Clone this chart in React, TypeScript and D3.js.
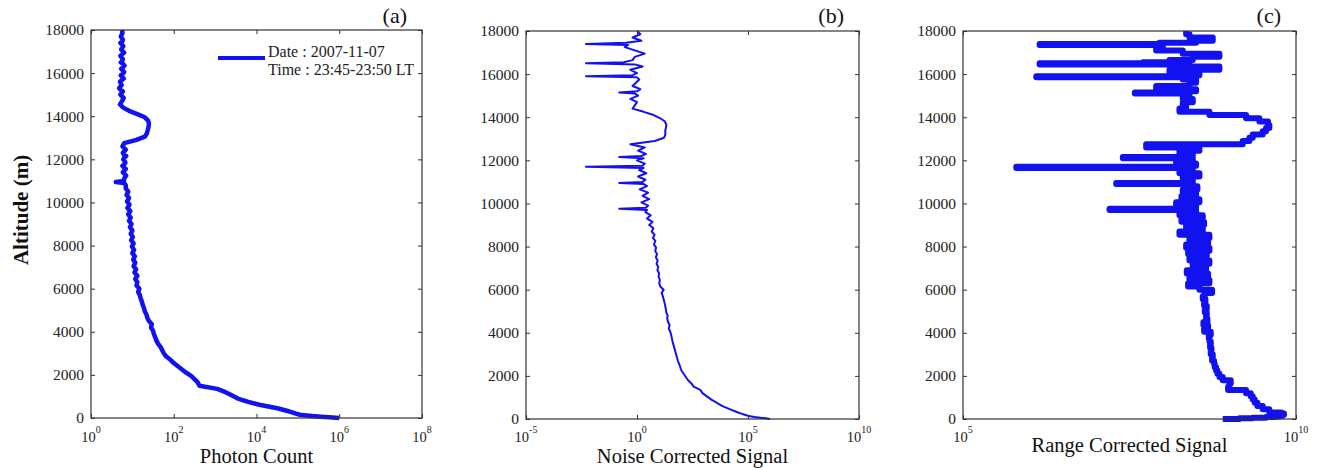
import { useEffect, useRef } from "react";
import * as d3 from "d3";

// altitude bins (m), shared by the three profiles
const altitude = [
  0, 30, 60, 90, 120, 150, 200, 250, 300, 450,
  600, 750, 900, 1050, 1200, 1350, 1500, 1650, 1800, 1950,
  2100, 2250, 2400, 2550, 2700, 2850, 3000, 3150, 3300, 3450,
  3600, 3750, 3900, 4050, 4200, 4350, 4500, 4650, 4800, 4950,
  5100, 5250, 5400, 5550, 5700, 5850, 6000, 6150, 6300, 6450,
  6600, 6750, 6900, 7050, 7200, 7350, 7500, 7650, 7800, 7950,
  8100, 8250, 8400, 8550, 8700, 8850, 9000, 9150, 9300, 9450,
  9600, 9700, 9750, 9800, 9900, 10050, 10200, 10350, 10500, 10650,
  10800, 10900, 10950, 11000, 11100, 11250, 11400, 11550, 11650, 11700,
  11750, 11850, 12000, 12100, 12150, 12200, 12300, 12450, 12600, 12750,
  12900, 13050, 13200, 13350, 13500, 13650, 13800, 13950, 14100, 14250,
  14400, 14550, 14700, 14850, 15000, 15100, 15150, 15200, 15300, 15450,
  15600, 15750, 15850, 15900, 15950, 16050, 16200, 16350, 16450, 16500,
  16550, 16650, 16800, 16950, 17100, 17250, 17350, 17400, 17450, 17550,
  17700, 17850, 18000,
];

// profiles, stored as log10 of the signal
const photonCountExp = [
  6.0, 5.75, 5.55, 5.35, 5.2, 5.05, 4.95, 4.88, 4.8, 4.5,
  4.1, 3.8, 3.55, 3.4, 3.25, 3.05, 2.62, 2.58, 2.5, 2.42,
  2.3, 2.2, 2.1, 2.0, 1.92, 1.82, 1.76, 1.72, 1.68, 1.62,
  1.58, 1.55, 1.52, 1.5, 1.45, 1.47, 1.4, 1.36, 1.34, 1.3,
  1.28, 1.25, 1.23, 1.2, 1.18, 1.14, 1.17, 1.1, 1.12, 1.07,
  1.12, 1.05, 1.09, 1.03, 1.07, 1.02, 1.06, 1.0, 1.04, 0.99,
  1.03, 0.97, 1.01, 0.96, 1.0, 0.94, 0.98, 0.92, 0.96, 0.9,
  0.95, 0.9, 0.88, 0.9, 0.93, 0.87, 0.92, 0.86, 0.9, 0.84,
  0.84, 0.8, 0.6, 0.8, 0.8, 0.85, 0.77, 0.84, 0.78, 0.76,
  0.8, 0.83, 0.78, 0.82, 0.85, 0.8, 0.77, 0.84, 0.76, 0.8,
  1.1, 1.3, 1.35, 1.37, 1.39, 1.4, 1.38, 1.3, 1.12, 0.92,
  0.78, 0.7, 0.75, 0.79, 0.71, 0.75, 0.77, 0.73, 0.68, 0.74,
  0.7, 0.79, 0.74, 0.72, 0.76, 0.8, 0.73, 0.81, 0.76, 0.72,
  0.75, 0.77, 0.71, 0.8, 0.73, 0.78, 0.74, 0.71, 0.75, 0.77,
  0.72, 0.76, 0.75,
];

const noiseCorrectedExp = [
  6.0, 5.8, 5.55, 5.3, 5.15, 5.0, 4.85, 4.7, 4.55, 4.2,
  3.85, 3.6, 3.35, 3.15, 2.95, 2.85, 2.55, 2.45, 2.3, 2.2,
  2.1, 2.0, 1.95, 1.9, 1.84, 1.8, 1.76, 1.72, 1.68, 1.64,
  1.6, 1.57, 1.54, 1.5, 1.43, 1.47, 1.4, 1.36, 1.38, 1.32,
  1.3, 1.27, 1.24, 1.2, 1.16, 1.11, 1.2, 1.05, 1.0, 1.03,
  0.97, 1.0, 0.92, 0.96, 0.88, 0.93, 0.85, 0.9, 0.82, 0.86,
  0.76, 0.83, 0.72, 0.79, 0.66, 0.74, 0.55, 0.7, 0.45, 0.62,
  0.38, 0.45, -0.8, 0.4, 0.5, 0.2, 0.55, 0.25, 0.5, 0.12,
  0.45, 0.3, -0.8, 0.25, 0.38, 0.05, 0.42, 0.1, 0.3, -2.3,
  0.25, 0.35, 0.0, 0.3, -0.8, 0.2, 0.4, 0.05, 0.35, -0.3,
  0.8, 1.22, 1.28, 1.27, 1.3, 1.32, 1.26, 1.05, 0.75, 0.3,
  -0.2, -0.1, 0.0, -0.3, 0.05, -0.1, -0.8, 0.0, 0.15, -0.2,
  -0.05, 0.1, 0.0, -2.3, -0.2, 0.0, -0.3, 0.25, -0.1, -2.3,
  -0.6, -0.2, -0.1, 0.35, -0.1, -0.55, -0.4, -2.3, -0.5, 0.2,
  -0.2, 0.15, 0.0,
];

const rangeCorrectedExp = [
  8.9, 9.15, 9.35, 9.55, 9.68, 9.75, 9.8, 9.82, 9.78, 9.6,
  9.5, 9.42, 9.38, 9.35, 9.32, 9.25, 8.98, 9.0, 9.02, 8.9,
  8.85, 8.82, 8.8, 8.78, 8.77, 8.74, 8.75, 8.72, 8.73, 8.71,
  8.72, 8.7, 8.69, 8.72, 8.62, 8.68, 8.61, 8.67, 8.65, 8.66,
  8.63, 8.66, 8.62, 8.64, 8.6, 8.63, 8.74, 8.55, 8.38, 8.7,
  8.4, 8.68, 8.36, 8.65, 8.45, 8.7, 8.4, 8.66, 8.38, 8.7,
  8.35, 8.68, 8.4, 8.7, 8.25, 8.6, 8.35, 8.62, 8.28, 8.6,
  8.25, 8.5, 7.2, 8.45, 8.5, 8.2, 8.55, 8.28, 8.5, 8.3,
  8.52, 8.4, 7.3, 8.35, 8.45, 8.3, 8.55, 8.25, 8.45, 5.8,
  8.4, 8.5, 8.2, 8.45, 7.4, 8.35, 8.45, 8.25, 8.55, 7.75,
  9.2, 9.3, 9.35, 9.5, 9.55, 9.6, 9.58, 9.45, 9.25, 8.7,
  8.25, 8.35, 8.3, 8.45, 8.3, 8.4, 7.58, 8.35, 8.5, 7.9,
  8.4, 8.5, 8.3, 6.1, 8.2, 8.55, 8.1, 8.85, 8.4, 6.15,
  7.7, 8.1, 8.45, 8.85, 8.3, 7.9, 8.0, 6.15, 7.95, 8.5,
  8.75, 8.4, 8.35,
];

const altitudeTicks = [0, 2000, 4000, 6000, 8000, 10000, 12000, 14000, 16000, 18000];
const photonTickExp = [0, 2, 4, 6, 8];
const noiseTickExp = [-5, 0, 5, 10];
const rangeTickExp = [5, 10];

const legendLines = ["Date : 2007-11-07", "Time : 23:45-23:50 LT"];

const FONT = "'Liberation Serif', 'Times New Roman', serif";
const BLUE = "#1212f0";

const panels = [
  {
    tag: "(a)", title: "Photon Count", values: photonCountExp, ticks: photonTickExp,
    left: 91, right: 422, top: 30, bottom: 418, width: 4.5, titleY: 463, legend: true, step: false,
  },
  {
    tag: "(b)", title: "Noise Corrected Signal", values: noiseCorrectedExp, ticks: noiseTickExp,
    left: 526, right: 859, top: 31, bottom: 419, width: 2, titleY: 463, legend: false, step: false,
  },
  {
    tag: "(c)", title: "Range Corrected Signal", values: rangeCorrectedExp, ticks: rangeTickExp,
    left: 963, right: 1296, top: 31, bottom: 419, width: 6, titleY: 452, legend: false, step: true,
  },
];

export default function App() {
  const ref = useRef<SVGSVGElement>(null);

  useEffect(() => {
    const svg = d3.select(ref.current);
    svg.selectAll("*").remove();

    panels.forEach((p) => {
      const lo = p.ticks[0];
      const hi = p.ticks[p.ticks.length - 1];
      const x = d3.scaleLog().domain([10 ** lo, 10 ** hi]).range([p.left, p.right]);
      const y = d3.scaleLinear().domain([0, 18000]).range([p.bottom, p.top]);
      const g = svg.append("g");

      // profile
      const pts: [number, number][] = altitude.map((a, i) => [10 ** p.values[i], a]);
      const line = d3
        .line<[number, number]>()
        .x((d) => x(d[0]))
        .y((d) => y(d[1]))
        .curve(p.step ? d3.curveStepAfter : d3.curveLinear);
      g.append("path")
        .attr("d", line(pts))
        .attr("fill", "none")
        .attr("stroke", BLUE)
        .attr("stroke-width", p.width)
        .attr("stroke-linejoin", "round");

      // box + inward ticks
      const tickVals = p.ticks.map((e) => 10 ** e);
      const styleAxis = (sel: any) => {
        sel.select(".domain").remove();
        sel.selectAll("line").attr("stroke", "#333");
      };
      g.append("g")
        .attr("transform", `translate(0,${p.bottom})`)
        .call(d3.axisBottom(x).tickValues(tickVals).tickSize(-4).tickFormat(() => ""))
        .call(styleAxis);
      g.append("g")
        .attr("transform", `translate(0,${p.top})`)
        .call(d3.axisTop(x).tickValues(tickVals).tickSize(-4).tickFormat(() => ""))
        .call(styleAxis);
      g.append("g")
        .attr("transform", `translate(${p.right},0)`)
        .call(d3.axisRight(y).tickValues(altitudeTicks).tickSize(-4).tickFormat(() => ""))
        .call(styleAxis);
      const yAxis = g
        .append("g")
        .attr("transform", `translate(${p.left},0)`)
        .call(d3.axisLeft(y).tickValues(altitudeTicks).tickSize(-4).tickPadding(7).tickFormat(d3.format("d")))
        .call(styleAxis);
      yAxis
        .selectAll("text")
        .attr("font-family", FONT)
        .attr("font-size", 15.5)
        .attr("fill", "#222");

      g.append("rect")
        .attr("x", p.left)
        .attr("y", p.top)
        .attr("width", p.right - p.left)
        .attr("height", p.bottom - p.top)
        .attr("fill", "none")
        .attr("stroke", "#333")
        .attr("stroke-width", 1.2);

      // power-of-ten tick labels
      p.ticks.forEach((e) => {
        const t = g
          .append("text")
          .attr("x", x(10 ** e))
          .attr("y", 442)
          .attr("text-anchor", "middle")
          .attr("font-family", FONT)
          .attr("font-size", 14.5)
          .attr("fill", "#222");
        t.append("tspan").text("10");
        t.append("tspan").attr("dy", -9).attr("font-size", 10).text(String(e));
      });

      g.append("text")
        .attr("x", (p.left + p.right) / 2)
        .attr("y", p.titleY)
        .attr("text-anchor", "middle")
        .attr("font-family", FONT)
        .attr("font-size", 20.5)
        .attr("fill", "#111")
        .text(p.title);

      g.append("text")
        .attr("x", p.right - 15)
        .attr("y", 23)
        .attr("text-anchor", "end")
        .attr("font-family", FONT)
        .attr("font-size", 22)
        .attr("fill", "#111")
        .text(p.tag);

      if (p.legend) {
        g.append("line")
          .attr("x1", 218)
          .attr("x2", 265)
          .attr("y1", 58)
          .attr("y2", 58)
          .attr("stroke", BLUE)
          .attr("stroke-width", 4);
        legendLines.forEach((s, i) => {
          g.append("text")
            .attr("x", 268)
            .attr("y", 57 + i * 18)
            .attr("font-family", FONT)
            .attr("font-size", 16)
            .attr("fill", "#222")
            .text(s);
        });
      }
    });

    svg
      .append("text")
      .attr("transform", "translate(28,210) rotate(-90)")
      .attr("text-anchor", "middle")
      .attr("font-family", FONT)
      .attr("font-size", 21)
      .attr("font-weight", "bold")
      .attr("fill", "#111")
      .text("Altitude (m)");
  }, []);

  return (
    <svg
      ref={ref}
      width={1321}
      height={468}
      style={{ position: "absolute", left: 0, top: 0, background: "#fff" }}
      role="img"
      aria-label="Lidar profiles: photon count, noise corrected and range corrected signal versus altitude"
    />
  );
}
